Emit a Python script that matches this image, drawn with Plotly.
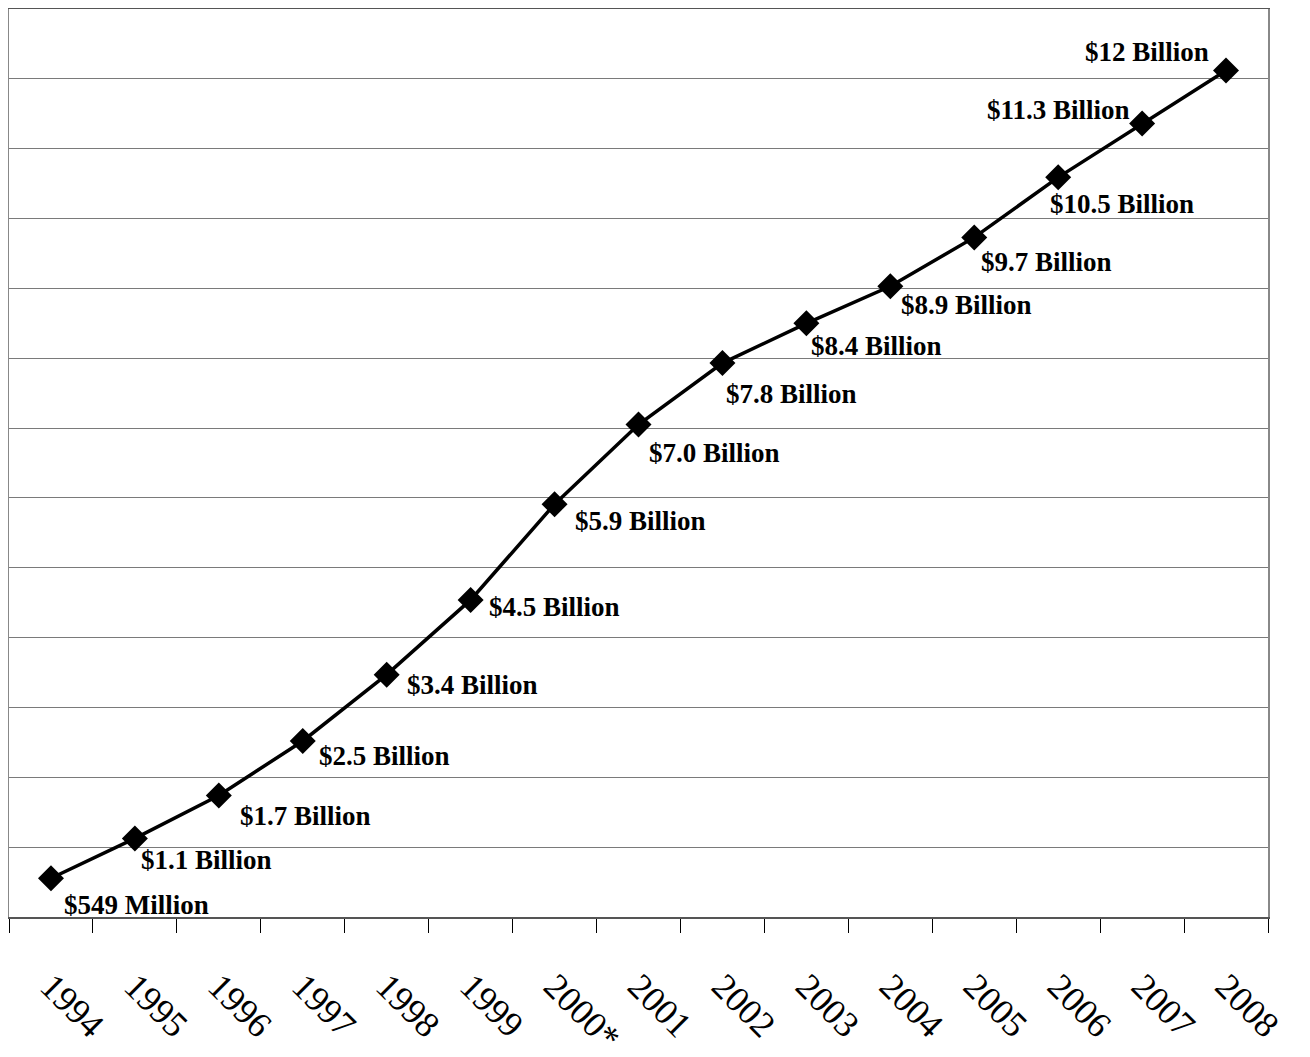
import plotly.graph_objects as go

years = ["1994", "1995", "1996", "1997", "1998", "1999", "2000*", "2001",
         "2002", "2003", "2004", "2005", "2006", "2007", "2008"]
# values in billions of dollars
values = [0.555, 1.125, 1.74, 2.52, 3.47, 4.54, 5.91, 7.05,
          7.93, 8.50, 9.03, 9.73, 10.59, 11.36, 12.12]
labels = ["$549 Million", "$1.1 Billion", "$1.7 Billion", "$2.5 Billion",
          "$3.4 Billion", "$4.5 Billion", "$5.9 Billion", "$7.0 Billion",
          "$7.8 Billion", "$8.4 Billion", "$8.9 Billion", "$9.7 Billion",
          "$10.5 Billion", "$11.3 Billion", "$12 Billion"]

# label placement (pixel offsets from marker): (anchor, dx, dy)
label_style = [("left", 11, 27), ("left", 4, 22), ("left", 19, 21), ("left", 14, 15),
               ("left", 18, 10), ("left", 16, 7), ("left", 18, 17), ("left", 8, 28),
               ("left", 2, 31), ("left", 3, 23), ("left", 9, 19), ("left", 5, 25),
               ("left", -10, 27), ("right", -10, -14), ("right", -15, -18)]

idx = list(range(len(years)))

fig = go.Figure()
fig.add_trace(go.Scatter(
    x=idx, y=values, mode="lines+markers",
    line=dict(color="black", width=3.5),
    marker=dict(symbol="diamond", size=20, color="black"),
    hoverinfo="skip", showlegend=False,
))

for i, v, txt, (anc, dx, dy) in zip(idx, values, labels, label_style):
    fig.add_annotation(
        x=i, y=v, text=txt, showarrow=False,
        xanchor=anc, yanchor="middle", xshift=dx, yshift=-dy,
        font=dict(family="Liberation Serif", size=27, color="black", weight="bold"),
    )

fig.update_layout(
    width=1310, height=1057,
    margin=dict(l=1, r=50, t=1, b=148),
    paper_bgcolor="white", plot_bgcolor="white",
    font=dict(family="Liberation Serif", color="black"),
)
fig.update_xaxes(
    range=[-0.5, 14.5], automargin=False,
    tickmode="array", tickvals=idx, ticktext=years,
    showgrid=False, ticks="", showline=True, linecolor="#555", linewidth=1.5, mirror=True,
    tickangle=45, ticklabelstandoff=32,
    tickfont=dict(family="Liberation Serif", size=36, color="black"),
    zeroline=False,
)
# boundary tick marks between categories
fig.update_xaxes(
    minor=dict(tickmode="array", tickvals=[i - 0.5 for i in idx] + [idx[-1] + 0.5],
               ticks="outside", ticklen=14, tickcolor="black", tickwidth=1, showgrid=False),
)
fig.update_yaxes(
    range=[0, 13], dtick=1, showticklabels=False, automargin=False,
    showgrid=True, gridcolor="#7a7a7a", gridwidth=1,
    showline=True, linecolor="#888", linewidth=1.5, mirror=True,
    zeroline=False, ticks="",
)

fig.write_html("out.html")
